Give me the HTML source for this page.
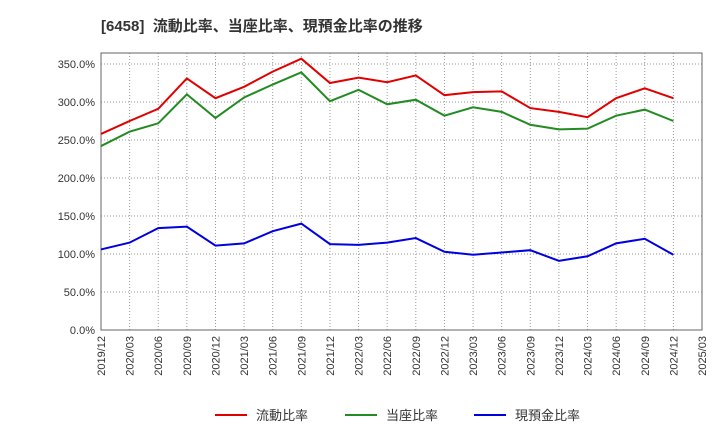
<!DOCTYPE html>
<html><head><meta charset="utf-8"><style>
body{margin:0;background:#fff;font-family:"Liberation Sans","Noto Sans CJK JP",sans-serif}
svg text{font-family:"Liberation Sans","Noto Sans CJK JP",sans-serif}
</style></head><body>
<svg id="c" width="720" height="440" xmlns="http://www.w3.org/2000/svg">
<text x="101" y="31" font-size="15" font-weight="bold" fill="#333">[6458]&#160;&#160;流動比率、当座比率、現預金比率の推移</text>
<g id="grid"></g><g id="axes"></g><g id="lines"></g><g id="legend"></g>
</svg>
<script>
const categories=["2019/12","2020/03","2020/06","2020/09","2020/12","2021/03","2021/06","2021/09","2021/12","2022/03","2022/06","2022/09","2022/12","2023/03","2023/06","2023/09","2023/12","2024/03","2024/06","2024/09","2024/12","2025/03"];
const currentRatio=[258,275,291,331,305,320,340,357,325,332,326,335,309,313,314,292,287,280,305,318,305];
const quickRatio=[242,261,272,310,279,306,323,339,301,316,297,303,282,293,287,270,264,265,282,290,275];
const cashRatio=[106,115,134,136,111,114,130,140,113,112,115,121,103,99,102,105,91,97,114,120,99];
const yTicks=[0,50,100,150,200,250,300,350];
const seriesNames=["流動比率","当座比率","現預金比率"];
const NS="http://www.w3.org/2000/svg";
const L=101,R=702,T=53,B=330;
const x=i=>L+(R-L)*i/(categories.length-1);
const y=v=>B-v*76/100;
function mk(tag,attrs,parent){const e=document.createElementNS(NS,tag);for(const k in attrs)e.setAttribute(k,attrs[k]);parent.appendChild(e);return e;}
const grid=document.getElementById('grid'),axes=document.getElementById('axes'),lines=document.getElementById('lines'),legend=document.getElementById('legend');
yTicks.forEach(t=>{
 const g=mk('line',{x1:L,x2:R,y1:y(t),y2:y(t),stroke:'#999','stroke-dasharray':'1,2'},grid);
 
 
 const tx=mk('text',{x:L-6,y:y(t)+4,'text-anchor':'end','font-size':11,fill:'#333'},axes);
 tx.textContent=t.toFixed(1)+'%';
 
 
});
categories.forEach((c,i)=>{
 const g=mk('line',{x1:x(i),x2:x(i),y1:T,y2:B,stroke:'#999','stroke-dasharray':'1,2'},grid);
 
 
 const tx=mk('text',{x:0,y:0,'text-anchor':'end','font-size':11,fill:'#333',transform:`translate(${x(i)+4},${B+6}) rotate(-90)`},axes);
 tx.textContent=c;
 
 
});
const frame=mk('rect',{x:L,y:T,width:R-L,height:B-T,fill:'none',stroke:'#666'},axes);


const colors=['#e00000','#228b22','#0000e0'];
[currentRatio,quickRatio,cashRatio].forEach((s,k)=>{
 const p=mk('polyline',{points:s.map((v,i)=>x(i)+','+y(v)).join(' '),fill:'none',stroke:colors[k],'stroke-width':2},lines);
 
 
});
const lx=[215,345,474];
seriesNames.forEach((n,k)=>{
 const g=mk('g',{},legend);
 
 
 mk('line',{x1:lx[k],x2:lx[k]+32,y1:415,y2:415,stroke:colors[k],'stroke-width':2},g);
 const t=mk('text',{x:lx[k]+41,y:420,'font-size':13,fill:'#333'},g);
 t.textContent=n;
});
</script>
</body></html>
